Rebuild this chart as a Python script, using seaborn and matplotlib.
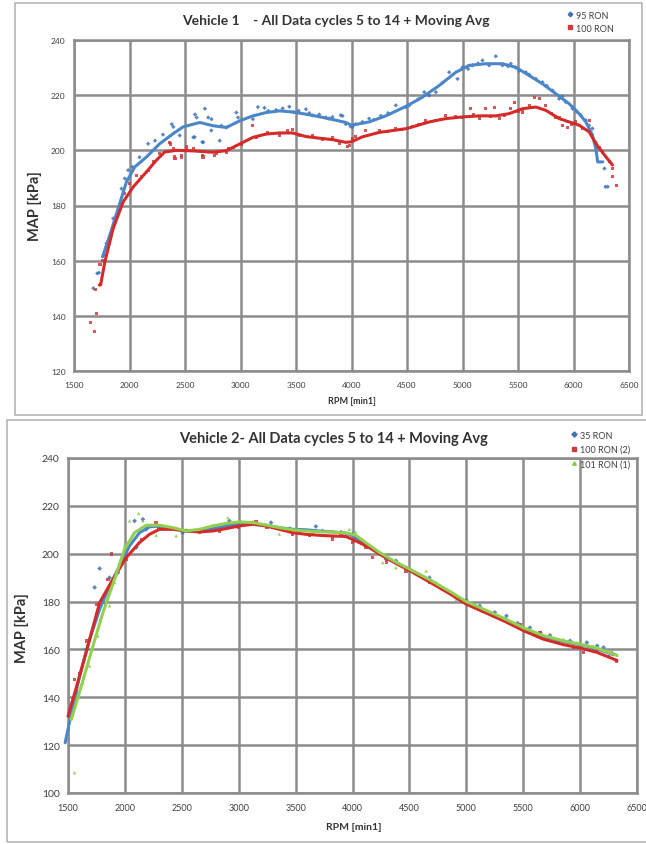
import matplotlib
matplotlib.use("Agg")
import matplotlib.pyplot as plt
from matplotlib.patches import Rectangle
from matplotlib.lines import Line2D
import seaborn as sns
import pandas as pd

# ---------------- Vehicle 1 data ----------------
v1_titles = "Vehicle 1    - All Data cycles 5 to 14 + Moving Avg"
v1_series = ["95 RON", "100 RON"]

v1_95_rpm = [1674, 1710, 1725, 1769, 1793, 1853, 1928, 1958, 1988, 2027, 2090, 2168, 2230, 2302, 2381, 2395,
             2452, 2575, 2587, 2590, 2605, 2656, 2664, 2679, 2709, 2737, 2739, 2813, 2828, 2873, 2963, 2978,
             3112, 3157, 3216, 3250, 3321, 3380, 3440, 3480, 3524, 3590, 3620, 3649, 3709, 3769, 3799, 3828,
             3903, 3919, 3948, 3993, 4009, 4037, 4099, 4159, 4200, 4264, 4330, 4399, 4489, 4520, 4600, 4655,
             4700, 4760, 4820, 4880, 4955, 5000, 5050, 5090, 5140, 5180, 5240, 5300, 5360, 5410, 5435, 5480,
             5511, 5571, 5600, 5661, 5721, 5760, 5811, 5871, 5900, 5931, 5991, 6030, 6066, 6111, 6140, 6171,
             6200, 6279, 6288, 6309]
v1_95_map = [150.0, 155.4, 155.6, 162.0, 166.3, 175.3, 186.1, 189.8, 192.8, 194.0, 197.5, 202.4, 203.5, 205.7,
             209.5, 208.5, 205.4, 204.7, 204.8, 213.0, 211.9, 203.0, 202.9, 215.1, 211.9, 207.2, 211.3, 203.5,
             208.9, 208.3, 213.7, 211.9, 211.3, 215.7, 215.4, 214.3, 214.6, 215.2, 215.8, 213.8, 214.3, 214.9,
             213.5, 212.7, 213.0, 211.9, 211.5, 212.1, 212.7, 212.5, 209.5, 208.6, 208.5, 209.5, 210.3, 211.5,
             211.0, 212.5, 213.5, 216.3, 215.7, 216.3, 218.5, 221.1, 219.9, 221.1, 224.5, 228.3, 225.9, 230.1,
             229.5, 230.8, 231.5, 232.6, 230.8, 234.1, 230.8, 230.5, 231.4, 230.0, 228.9, 228.3, 227.5, 225.9,
             224.7, 223.4, 221.7, 218.7, 219.5, 217.5, 215.1, 214.0, 212.7, 210.9, 209.0, 207.9, 203.0, 193.4,
             186.8, 186.8]

v1_100_rpm = [1650, 1683, 1695, 1704, 1734, 1757, 1883, 1913, 1958, 2003, 2063, 2108, 2168, 2213, 2272, 2362,
              2366, 2396, 2407, 2410, 2467, 2470, 2512, 2575, 2658, 2662, 2766, 2784, 2871, 2888, 2933, 3008,
              3112, 3142, 3246, 3351, 3425, 3470, 3530, 3649, 3739, 3828, 3889, 3963, 3979, 4007, 4039, 4129,
              4249, 4320, 4399, 4450, 4550, 4600, 4670, 4760, 4800, 4850, 4940, 5000, 5075, 5100, 5150, 5210,
              5250, 5285, 5330, 5375, 5435, 5465, 5500, 5541, 5601, 5646, 5691, 5751, 5800, 5841, 5870, 5901,
              5946, 5980, 6021, 6081, 6141, 6173, 6230, 6264, 6324, 6348, 6355, 6391]
v1_100_map = [137.6, 134.3, 149.4, 140.7, 158.7, 160.2, 175.3, 178.3, 184.3, 188.0, 191.0, 190.4, 192.8, 195.8,
              198.8, 202.8, 202.3, 200.5, 197.6, 196.9, 198.2, 197.5, 201.2, 200.5, 198.1, 197.6, 198.2, 198.7,
              199.4, 200.5, 201.1, 202.3, 208.9, 204.7, 206.5, 205.5, 207.1, 207.7, 205.3, 205.3, 204.1, 204.7,
              202.5, 201.4, 201.9, 204.1, 204.9, 207.3, 207.3, 206.8, 207.9, 207.5, 208.5, 209.5, 210.9, 210.9,
              211.3, 212.5, 212.1, 212.0, 215.1, 212.8, 211.5, 215.1, 212.2, 215.4, 211.5, 212.7, 215.1, 217.3,
              214.0, 213.9, 216.3, 219.3, 218.7, 216.3, 213.5, 212.1, 211.8, 209.1, 208.2, 209.5, 210.3, 207.9,
              210.9, 205.4, 201.0, 199.4, 195.8, 190.4, 193.4, 187.4]

v1_95_avg_rpm = [1757, 1823, 1898, 1973, 2048, 2153, 2272, 2392, 2482, 2634, 2754, 2873, 2993, 3112, 3231, 3351,
                 3470, 3590, 3709, 3828, 3948, 4000, 4159, 4309, 4499, 4640, 4790, 4940, 5060, 5210, 5360, 5480,
                 5601, 5721, 5841, 5961, 6051, 6111, 6171, 6201, 6218, 6264]
v1_95_avg_map = [161.4, 169.3, 178.9, 188.6, 194.0, 197.6, 202.4, 206.0, 208.5, 210.1, 208.9, 208.3, 210.7, 212.5,
                 213.7, 214.3, 213.9, 213.1, 212.2, 211.2, 210.1, 209.1, 210.3, 212.5, 216.1, 219.3, 223.5, 228.3,
                 230.8, 231.4, 231.4, 230.1, 227.1, 224.1, 220.5, 216.9, 213.3, 210.3, 205.5, 200.7, 195.8, 195.8]

v1_100_avg_rpm = [1728, 1740, 1778, 1853, 1943, 2033, 2153, 2242, 2317, 2422, 2572, 2754, 2873, 2993, 3112, 3231,
                  3351, 3470, 3590, 3709, 3828, 3948, 4000, 4099, 4249, 4499, 4700, 4850, 5000, 5150, 5300, 5420,
                  5541, 5661, 5751, 5871, 5961, 6051, 6141, 6201, 6291, 6351]
v1_100_avg_map = [151.2, 151.2, 159.6, 171.7, 181.3, 186.7, 192.2, 196.4, 199.4, 200.0, 199.8, 199.3, 199.9, 202.3,
                  204.7, 205.9, 206.3, 206.3, 205.0, 204.4, 203.9, 202.9, 203.1, 204.9, 206.5, 207.9, 210.3, 211.5,
                  212.1, 212.5, 212.5, 213.3, 215.1, 215.7, 214.5, 211.5, 210.3, 209.1, 206.7, 202.5, 197.7, 194.7]

# ---------------- Vehicle 2 data ----------------
v2_series = ["35 RON", "100 RON (2)", "101 RON (1)"]

v2_95_rpm = [1515, 1580, 1661, 1734, 1778, 1865, 1939, 2085, 2099, 2158, 2187, 2300, 2509, 2700, 2918, 3020,
             3284, 3450, 3678, 3737, 3900, 4000, 4100, 4294, 4382, 4550, 4676, 4882, 5000, 5118, 5250, 5353,
             5450, 5559, 5650, 5735, 5912, 6059, 6150, 6206, 6280]
v2_95_map = [132.0, 142.0, 160.0, 185.9, 193.8, 190.0, 192.1, 213.7, 202.6, 214.4, 210.2, 211.0, 208.8, 210.0,
             213.7, 213.0, 213.0, 210.5, 211.4, 209.5, 209.0, 208.2, 204.5, 197.7, 197.0, 192.0, 190.0, 183.1,
             180.5, 178.2, 175.5, 174.0, 171.0, 169.1, 167.0, 165.9, 163.6, 162.9, 161.5, 160.8, 158.5]

v2_100_rpm = [1500, 1558, 1600, 1661, 1749, 1830, 1851, 1880, 2012, 2150, 2275, 2300, 2436, 2655, 2830, 3000,
              3152, 3250, 3474, 3620, 3825, 3900, 4000, 4118, 4176, 4300, 4471, 4676, 4794, 4971, 5147, 5324,
              5471, 5647, 5794, 5941, 6029, 6147, 6250, 6318]
v2_100_map = [132.2, 147.5, 150.0, 163.6, 178.9, 178.9, 189.3, 199.8, 197.7, 206.0, 213.0, 210.5, 210.5, 208.8,
              209.5, 211.0, 213.3, 211.0, 208.2, 207.5, 206.1, 207.5, 204.7, 202.6, 198.4, 196.5, 192.8, 188.0,
              185.2, 180.3, 176.1, 172.6, 170.5, 167.0, 163.6, 160.8, 158.7, 159.4, 157.0, 155.2]

v2_101_rpm = [1515, 1558, 1600, 1632, 1690, 1763, 1865, 1909, 1997, 2041, 2120, 2158, 2275, 2450, 2538, 2655,
              2772, 2904, 3006, 3123, 3240, 3357, 3532, 3649, 3825, 3971, 4029, 4147, 4265, 4382, 4529, 4647,
              4735, 4912, 5088, 5235, 5382, 5559, 5735, 5853, 5971, 6118, 6235, 6324, 1558]
v2_101_map = [130.8, 136.4, 140.0, 146.1, 153.1, 165.6, 178.2, 188.0, 203.3, 213.7, 216.8, 213.7, 207.7, 207.5,
              210.2, 210.2, 211.6, 215.1, 213.0, 213.5, 212.0, 208.2, 208.8, 208.8, 209.5, 210.2, 209.1, 203.3,
              196.3, 194.2, 192.8, 192.8, 188.0, 181.0, 177.5, 174.0, 171.2, 168.4, 165.6, 164.3, 162.9, 161.5,
              159.4, 157.6, 108.5]

v2_95_avg_rpm = [1475, 1530, 1602, 1690, 1778, 1865, 1953, 2041, 2129, 2216, 2304, 2421, 2538, 2655, 2772, 2889,
                 3006, 3123, 3240, 3357, 3474, 3591, 3708, 3825, 3942, 4000, 4088, 4206, 4324, 4500, 4676, 4853,
                 5000, 5176, 5353, 5500, 5676, 5853, 6000, 6147, 6294]
v2_95_avg_map = [121.0, 133.5, 148.9, 164.2, 176.8, 186.5, 194.9, 203.3, 208.8, 211.2, 211.6, 210.5, 209.5, 209.5,
                 210.5, 211.6, 212.6, 212.6, 211.9, 210.9, 210.2, 210.0, 209.5, 209.1, 208.6, 207.5, 204.5, 201.0,
                 197.5, 193.5, 189.0, 184.0, 179.6, 176.0, 172.3, 168.8, 165.4, 163.3, 162.0, 160.3, 157.8]

v2_100_avg_rpm = [1500, 1602, 1690, 1778, 1895, 2012, 2129, 2216, 2304, 2421, 2538, 2655, 2772, 2889, 3006, 3123,
                  3240, 3357, 3474, 3591, 3708, 3825, 3942, 4058, 4150, 4260, 4400, 4500, 4676, 4853, 5000, 5176,
                  5353, 5500, 5676, 5853, 6000, 6147, 6324]
v2_100_avg_map = [132.1, 148.9, 164.2, 179.6, 189.3, 198.4, 204.7, 208.1, 210.2, 210.2, 209.5, 209.1, 209.5, 210.5,
                  211.6, 212.3, 211.6, 210.2, 208.8, 208.1, 207.7, 207.4, 207.2, 204.7, 202.5, 199.2, 195.5, 193.0,
                  188.2, 183.3, 178.9, 175.2, 171.4, 167.9, 164.3, 162.0, 160.6, 158.8, 155.4]

v2_101_avg_rpm = [1529, 1617, 1719, 1807, 1909, 1997, 2085, 2187, 2304, 2421, 2538, 2655, 2772, 2889, 3006, 3123,
                  3240, 3357, 3474, 3591, 3708, 3825, 3942, 4030, 4120, 4230, 4350, 4500, 4676, 4853, 5000, 5176,
                  5353, 5500, 5676, 5853, 6000, 6147, 6324]
v2_101_avg_map = [130.7, 144.7, 161.4, 175.4, 189.3, 201.9, 208.8, 211.9, 211.9, 210.9, 209.5, 210.2, 211.6, 212.7,
                  213.3, 213.0, 212.0, 210.9, 210.0, 209.5, 209.2, 209.0, 208.7, 207.7, 204.5, 200.8, 197.3, 193.6,
                  189.2, 184.3, 180.0, 176.3, 172.5, 169.1, 165.8, 163.6, 162.2, 160.6, 157.6]

x_ticks = [1500, 2000, 2500, 3000, 3500, 4000, 4500, 5000, 5500, 6000, 6500]
v1_y_ticks = [120, 140, 160, 180, 200, 220, 240]
v2_y_ticks = [100, 120, 140, 160, 180, 200, 220, 240]

# ---------------- styling ----------------
sns.set_style("white")
plt.rcParams["font.family"] = ["Lato", "DejaVu Sans"]

BLUE_PT, BLUE_LN = "#3f72b5", "#4a86c8"
RED_PT, RED_LN = "#cf3a3a", "#d42a2a"
GREEN_PT, GREEN_LN = "#86cc3c", "#92d050"
GRID = "#8c8c8c"
TXT = "#404040"

W, H = 646, 845
fig = plt.figure(figsize=(W / 100, H / 100), dpi=100)


def px_axes(l, t, r, b):
    return fig.add_axes([l / W, 1 - b / H, (r - l) / W, (b - t) / H])


def fx(x):
    return x / W


def fy(y):
    return 1 - y / H


# panel borders
fig.patches.append(Rectangle((fx(15), fy(416)), fx(642) - fx(15), fy(4) - fy(416),
                             transform=fig.transFigure, fill=False, ec="#b5b5b5", lw=1.2, zorder=0))
fig.patches.append(Rectangle((fx(7), fy(843)), fx(652) - fx(7), fy(421) - fy(843),
                             transform=fig.transFigure, fill=False, ec="#b5b5b5", lw=1.2, zorder=0))


def style_axes(ax, yticks, ylim, tick_fs_x, tick_fs_y):
    ax.set_xlim(1500, 6500)
    ax.set_ylim(*ylim)
    ax.set_xticks(x_ticks)
    ax.set_yticks(yticks)
    ax.grid(True, color=GRID, lw=1.8, zorder=0)
    ax.set_axisbelow(True)
    for s in ax.spines.values():
        s.set_color(GRID)
        s.set_linewidth(1.8)
    ax.tick_params(axis="x", length=3, width=1, color=GRID, labelsize=tick_fs_x, labelcolor=TXT, pad=4)
    ax.tick_params(axis="y", length=4, width=1, color=GRID, labelsize=tick_fs_y, labelcolor=TXT, pad=2)
    ax.set_xlabel("")
    ax.set_ylabel("")


# ---------------- Vehicle 1 ----------------
ax1 = px_axes(74, 41, 629, 372)
pts1 = pd.concat([
    pd.DataFrame({"rpm": v1_95_rpm, "map": v1_95_map, "s": v1_series[0]}),
    pd.DataFrame({"rpm": v1_100_rpm, "map": v1_100_map, "s": v1_series[1]}),
])
lns1 = pd.concat([
    pd.DataFrame({"rpm": v1_95_avg_rpm, "map": v1_95_avg_map, "s": v1_series[0]}),
    pd.DataFrame({"rpm": v1_100_avg_rpm, "map": v1_100_avg_map, "s": v1_series[1]}),
])
pal1_pt = {v1_series[0]: BLUE_PT, v1_series[1]: RED_PT}
pal1_ln = {v1_series[0]: BLUE_LN, v1_series[1]: RED_LN}
mk1 = {v1_series[0]: "D", v1_series[1]: "s"}
sns.scatterplot(data=pts1, x="rpm", y="map", hue="s", style="s", palette=pal1_pt, markers=mk1,
                s=5, linewidth=0, alpha=0.85, legend=False, ax=ax1, zorder=3)
sns.lineplot(data=lns1, x="rpm", y="map", hue="s", palette=pal1_ln, sort=False, estimator=None,
             linewidth=2.2, legend=False, ax=ax1, zorder=4)
style_axes(ax1, v1_y_ticks, (120, 240), 6, 6)

fig.text(fx(336), fy(21), v1_titles, ha="center", va="center", fontsize=10, fontweight="bold", color="#333333")
fig.text(fx(35), fy(206), "MAP [kPa]", ha="center", va="center", rotation=90, fontsize=10.5,
         fontweight="bold", color="#333333")
fig.text(fx(352), fy(402), "RPM [min1]", ha="center", va="center", fontsize=6.5, fontweight="bold", color="#333333")

h1 = [Line2D([], [], ls="", marker=mk1[s], color=pal1_pt[s], markersize=2.3) for s in v1_series]
fig.legend(h1, v1_series, loc="upper left", bbox_to_anchor=(fx(563), fy(7)), frameon=False, fontsize=6.5,
           handlelength=0.6, handletextpad=0.3, labelspacing=0.45, borderpad=0, labelcolor=TXT)

# ---------------- Vehicle 2 ----------------
ax2 = px_axes(68, 459, 637, 794)
pts2 = pd.concat([
    pd.DataFrame({"rpm": v2_95_rpm, "map": v2_95_map, "s": v2_series[0]}),
    pd.DataFrame({"rpm": v2_100_rpm, "map": v2_100_map, "s": v2_series[1]}),
    pd.DataFrame({"rpm": v2_101_rpm, "map": v2_101_map, "s": v2_series[2]}),
])
lns2 = pd.concat([
    pd.DataFrame({"rpm": v2_95_avg_rpm, "map": v2_95_avg_map, "s": v2_series[0]}),
    pd.DataFrame({"rpm": v2_100_avg_rpm, "map": v2_100_avg_map, "s": v2_series[1]}),
    pd.DataFrame({"rpm": v2_101_avg_rpm, "map": v2_101_avg_map, "s": v2_series[2]}),
])
pal2_pt = {v2_series[0]: BLUE_PT, v2_series[1]: RED_PT, v2_series[2]: GREEN_PT}
pal2_ln = {v2_series[0]: BLUE_LN, v2_series[1]: RED_LN, v2_series[2]: GREEN_LN}
mk2 = {v2_series[0]: "D", v2_series[1]: "s", v2_series[2]: "^"}
sns.scatterplot(data=pts2, x="rpm", y="map", hue="s", style="s", palette=pal2_pt, markers=mk2,
                s=6, linewidth=0, alpha=0.85, legend=False, ax=ax2, zorder=3)
sns.lineplot(data=lns2, x="rpm", y="map", hue="s", palette=pal2_ln, sort=False, estimator=None,
             linewidth=2.2, legend=False, ax=ax2, zorder=4)
for ln in ax2.lines:
    ln.set_clip_on(False)
style_axes(ax2, v2_y_ticks, (100, 240), 6.5, 7.5)

fig.text(fx(334), fy(439), "Vehicle 2- All Data cycles 5 to 14 + Moving Avg", ha="center", va="center",
         fontsize=10.5, fontweight="bold", color="#333333")
fig.text(fx(22), fy(628), "MAP [kPa]", ha="center", va="center", rotation=90, fontsize=10.5,
         fontweight="bold", color="#333333")
fig.text(fx(354), fy(828), "RPM [min1]", ha="center", va="center", fontsize=7.5, fontweight="bold",
         color="#333333")

h2 = [Line2D([], [], ls="", marker=mk2[s], color=pal2_pt[s], markersize=2.6) for s in v2_series]
fig.legend(h2, v2_series, loc="upper left", bbox_to_anchor=(fx(567), fy(427)), frameon=False, fontsize=6.5,
           handlelength=0.6, handletextpad=0.3, labelspacing=0.6, borderpad=0, labelcolor=TXT)

fig.savefig("out.png", dpi=100)
